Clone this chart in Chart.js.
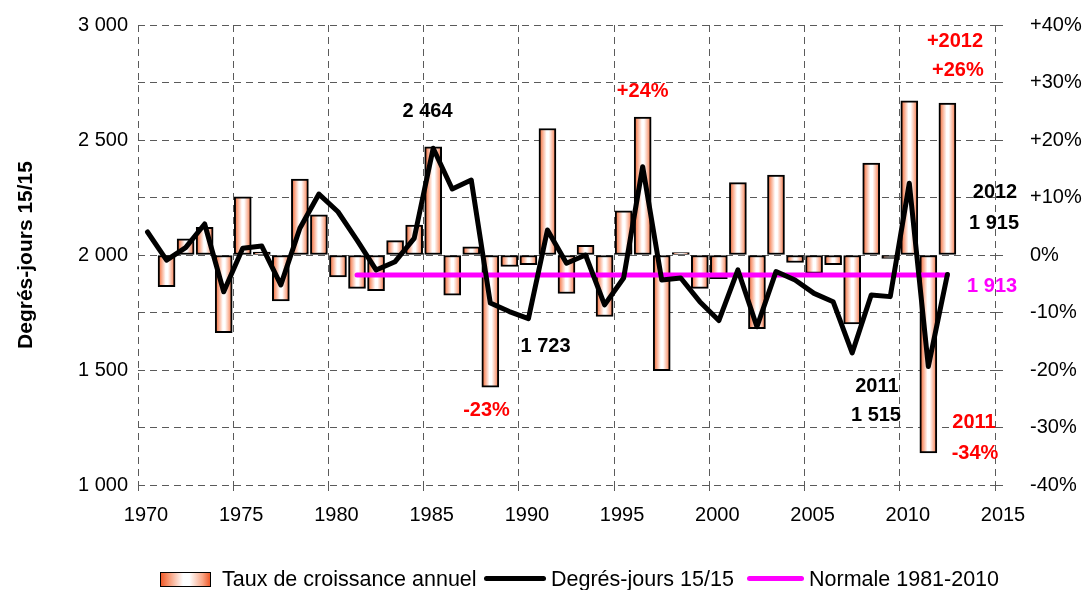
<!DOCTYPE html>
<html>
<head>
<meta charset="utf-8">
<script src="https://cdn.jsdelivr.net/npm/chart.js@4"></script>
<style>
  body { margin: 0; background: #fff; }
  #wrap { position: relative; width: 1084px; height: 590px; }
  #legend {
    position: absolute; left: 0; top: 566px; width: 1084px; height: 26px;
    font: 21.5px "Liberation Sans", Arial, sans-serif; color: #000;
  }
  #legend .item { position: absolute; top: 0; white-space: nowrap; line-height: 26px; }
  #legend .swatch { position: absolute; }
</style>
</head>
<body>
<div id="wrap">
  <canvas id="chart" width="1084" height="590"></canvas>
  <div id="legend">
    <div class="swatch" style="left:160px; top:6px; width:49px; height:13px; border:1.5px solid #000;
      background: linear-gradient(to right, #f05a2a 0%, #f7946e 15%, #fff 45%, #fff 58%, #f9a585 85%, #f05a2a 100%);"></div>
    <div class="item" style="left:222px;">Taux de croissance annuel</div>
    <div class="swatch" style="left:484px; top:10px; width:62px; height:5px; background:#000; border-radius:3px;"></div>
    <div class="item" style="left:551px;">Degrés-jours 15/15</div>
    <div class="swatch" style="left:747px; top:10px; width:57px; height:5px; background:#ff00ff; border-radius:3px;"></div>
    <div class="item" style="left:809px;">Normale 1981-2010</div>
  </div>
</div>
<script>
// Degrés-jours 15/15, 1970-2012
const years = [1970, 1971, 1972, 1973, 1974, 1975, 1976, 1977, 1978, 1979,
  1980, 1981, 1982, 1983, 1984, 1985, 1986, 1987, 1988, 1989,
  1990, 1991, 1992, 1993, 1994, 1995, 1996, 1997, 1998, 1999,
  2000, 2001, 2002, 2003, 2004, 2005, 2006, 2007, 2008, 2009,
  2010, 2011, 2012];
const degreeDays = [2100, 1978, 2032, 2135, 1840, 2029, 2039, 1870, 2116, 2265,
  2188, 2065, 1935, 1971, 2072, 2464, 2287, 2326, 1791, 1754,
  1723, 2109, 1964, 2000, 1783, 1900, 2384, 1891, 1900, 1797,
  1715, 1935, 1688, 1928, 1891, 1833, 1797, 1574, 1826, 1819,
  2312, 1515, 1915];
// annual growth rate (%), 1971-2012
const growthRate = [-5.5, 2.8, 4.8, -13.5, 10.1, 0.5, -8.0, 13.2, 7.0,
  -3.8, -5.8, -6.2, 2.5, 5.2, 18.8, -7.0, 1.4, -23.0, -2.0,
  -1.7, 22.0, -6.7, 1.7, -10.7, 7.7, 24.0, -20.1, 0.4, -5.8,
  -4.1, 12.6, -12.8, 13.9, -1.3, -3.2, -1.7, -12.0, 16.0, -0.6,
  26.8, -34.4, 26.4];
const normalYears = [1981, 2012];
const normalValue = 1913;

const xTicks = [1970, 1975, 1980, 1985, 1990, 1995, 2000, 2005, 2010, 2015];

// text labels anchored in data coordinates (year, degree-days)
const notes = [
  { x: 1985.2, y: 2622, text: "2 464", color: "#000" },
  { x: 1991.4, y: 1604, text: "1 723", color: "#000" },
  { x: 1988.3, y: 1326, text: "-23%", color: "#ff0000" },
  { x: 1996.5, y: 2713, text: "+24%", color: "#ff0000" },
  { x: 2012.9, y: 2930, text: "+2012", color: "#ff0000" },
  { x: 2013.05, y: 2804, text: "+26%", color: "#ff0000" },
  { x: 2015.0, y: 2270, text: "2012", color: "#000" },
  { x: 2014.95, y: 2135, text: "1 915", color: "#000" },
  { x: 2014.85, y: 1865, text: "1 913", color: "#ff00ff" },
  { x: 2008.8, y: 1430, text: "2011", color: "#000" },
  { x: 2008.75, y: 1304, text: "1 515", color: "#000" },
  { x: 2013.9, y: 1270, text: "2011", color: "#ff0000" },
  { x: 2013.95, y: 1135, text: "-34%", color: "#ff0000" }
];

const FONT = "'Liberation Sans', Arial, sans-serif";
const gridColor = "#5a5a5a";
const barWidth = 17;

function thousands(v) {
  return String(v).replace(/\B(?=(\d{3})+(?!\d))/g, " ");
}

function barGradient(ctx) {
  const chart = ctx.chart;
  const xs = chart.scales.x;
  if (!xs || !ctx.raw) return "#f9a080";
  const px = xs.getPixelForValue(ctx.raw.x);
  if (!isFinite(px)) return "#f9a080";
  const g = chart.ctx.createLinearGradient(px - barWidth / 2, 0, px + barWidth / 2, 0);
  g.addColorStop(0, "#f05a2a");
  g.addColorStop(0.15, "#f7946e");
  g.addColorStop(0.45, "#ffffff");
  g.addColorStop(0.58, "#ffffff");
  g.addColorStop(0.85, "#f9a585");
  g.addColorStop(1, "#f05a2a");
  return g;
}

const notesPlugin = {
  id: "notes",
  afterDatasetsDraw(chart) {
    const c = chart.ctx;
    const xs = chart.scales.x, ys = chart.scales.y;
    c.save();
    c.font = "bold 20px " + FONT;
    c.textAlign = "center";
    c.textBaseline = "middle";
    notes.forEach(n => {
      c.fillStyle = n.color;
      c.fillText(n.text, xs.getPixelForValue(n.x), ys.getPixelForValue(n.y));
    });
    c.restore();
  }
};

new Chart(document.getElementById("chart"), {
  data: {
    datasets: [
      {
        type: "line",
        label: "Degrés-jours 15/15",
        yAxisID: "y",
        data: years.map((yr, i) => ({ x: yr + 0.5, y: degreeDays[i] })),
        borderColor: "#000",
        borderWidth: 5,
        borderJoinStyle: "round",
        borderCapStyle: "round",
        pointRadius: 0,
        tension: 0,
        order: 0
      },
      {
        type: "line",
        label: "Normale 1981-2010",
        yAxisID: "y",
        data: normalYears.map(yr => ({ x: yr + 0.5, y: normalValue })),
        borderColor: "#ff00ff",
        borderWidth: 5,
        borderCapStyle: "round",
        pointRadius: 0,
        order: 1
      },
      {
        type: "bar",
        label: "Taux de croissance annuel",
        yAxisID: "yR",
        data: growthRate.map((v, i) => ({ x: years[i + 1] + 0.5, y: v })),
        backgroundColor: barGradient,
        borderColor: "#000",
        borderWidth: 2,
        borderSkipped: false,
        barThickness: barWidth,
        order: 2
      }
    ]
  },
  options: {
    responsive: false,
    animation: false,
    layout: { padding: { top: 25, left: 0, right: 0, bottom: 0 } },
    plugins: {
      legend: { display: false },
      tooltip: { enabled: false }
    },
    scales: {
      x: {
        type: "linear",
        position: "bottom",
        offset: false,
        min: 1970,
        max: 2015,
        afterBuildTicks: s => { s.ticks = xTicks.map(v => ({ value: v })); },
        afterFit: s => { s.height = 105; },
        ticks: {
          callback: v => String(v),
          font: { family: FONT, size: 20 },
          color: "#000",
          padding: 12,
          labelOffset: 8,
          maxRotation: 0
        },
        grid: { offset: false, color: gridColor, lineWidth: 1, tickLength: 6, tickColor: gridColor },
        border: { display: false, dash: [7, 5] }
      },
      y: {
        position: "left",
        min: 1000,
        max: 3000,
        afterFit: s => { s.width = 138; s.paddingTop = 0; s.paddingBottom = 0; },
        ticks: {
          stepSize: 500,
          callback: v => thousands(v),
          font: { family: FONT, size: 20 },
          color: "#000",
          padding: 10
        },
        grid: { display: false, drawTicks: false },
        border: { display: false },
        title: {
          display: true,
          text: "Degrés-jours 15/15",
          font: { family: FONT, size: 21, weight: "bold" },
          color: "#000",
          padding: { top: 14, bottom: 0 }
        }
      },
      yR: {
        position: "right",
        min: -40,
        max: 40,
        afterFit: s => { s.width = 89; s.paddingTop = 0; s.paddingBottom = 0; },
        ticks: {
          stepSize: 10,
          callback: v => (v > 0 ? "+" : "") + v + "%",
          font: { family: FONT, size: 20 },
          color: "#000",
          padding: 27
        },
        grid: { color: gridColor, lineWidth: 1, tickLength: 8, tickColor: gridColor },
        border: { display: false, dash: [7, 5] }
      }
    }
  },
  plugins: [notesPlugin]
});
</script>
</body>
</html>
